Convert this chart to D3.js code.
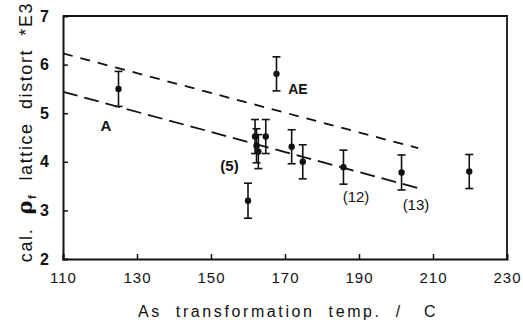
<!DOCTYPE html>
<html>
<head>
<meta charset="utf-8">
<script src="https://cdn.jsdelivr.net/npm/d3@7"></script>
<style>
body { margin: 0; background: #fff; }
svg { display: block; }
text { font-family: "Liberation Sans", Arial, sans-serif; fill: #111; white-space: pre; }
</style>
</head>
<body>
<div id="chart"></div>
<script>
// values
var temps = [125, 160, 161.9, 162.3, 162.8, 164.8, 167.7, 171.8, 174.8, 185.8, 201.5, 219.8];
var distort = [5.5, 3.2, 4.52, 4.33, 4.21, 4.52, 5.81, 4.31, 4.0, 3.89, 3.78, 3.8];
var errs = [0.36, 0.36, 0.35, 0.35, 0.35, 0.35, 0.35, 0.35, 0.35, 0.35, 0.36, 0.35];

var lineAE = [[110, 6.23], [206, 4.28]];
var lineA = [[110, 5.44], [206, 3.46]];

var xTicks = [110, 130, 150, 170, 190, 210, 230];
var yTicks = [2, 3, 4, 5, 6, 7];

var notes = [
    {t: "A", x: 121.6, y: 4.63, bold: true, size: 15},
    {t: "AE", x: 173.5, y: 5.4, bold: true, size: 14},
    {t: "(5)", x: 155, y: 3.81, bold: true, size: 15},
    {t: "(12)", x: 189.2, y: 3.17, bold: false, size: 15},
    {t: "(13)", x: 205.4, y: 3.0, bold: false, size: 15}
];

var w = 523, h = 324;
var x = d3.scaleLinear().domain([110, 230]).range([63, 507]);
var y = d3.scaleLinear().domain([2, 7]).range([259, 16]);

var svg = d3.select("#chart").append("svg").attr("width", w).attr("height", h);

// frame
svg.append("path")
    .attr("d", "M" + x(110) + "," + y(7) + "H" + x(230) + "V" + y(2))
    .attr("fill", "none").attr("stroke", "#111").attr("stroke-width", 1.8);

var gx = svg.append("g").attr("transform", "translate(0," + y(2) + ")")
    .call(d3.axisBottom(x).tickValues(xTicks).tickSize(-5).tickPadding(13).tickFormat(d3.format("d")));
var gy = svg.append("g").attr("transform", "translate(" + x(110) + ",0)")
    .call(d3.axisLeft(y).tickValues(yTicks).tickSize(-5).tickPadding(14).tickFormat(d3.format("d")));

[gx, gy].forEach(function(g) {
    g.select(".domain").attr("stroke", "#111").attr("stroke-width", 2);
    g.selectAll(".tick line").attr("stroke", "#111").attr("stroke-width", 1.5);
    g.selectAll(".tick text").attr("font-size", 15).attr("fill", "#111")
        .attr("font-family", "'Liberation Sans', Arial, sans-serif");
});
gx.selectAll(".tick text").attr("letter-spacing", 1);
gx.selectAll(".tick").filter(function(d) { return d == 230; }).select("line").remove();
gy.selectAll(".tick").filter(function(d) { return d == 2 || d == 7; }).select("line").remove();
gy.selectAll(".tick text").attr("font-weight", "bold").attr("font-size", 16);

// fitted lines
var line = d3.line().x(function(d) { return x(d[0]); }).y(function(d) { return y(d[1]); });
svg.append("path").attr("d", line(lineAE))
    .attr("fill", "none").attr("stroke", "#111").attr("stroke-width", 1.8)
    .attr("stroke-dasharray", "10,8");
svg.append("path").attr("d", line(lineA))
    .attr("fill", "none").attr("stroke", "#111").attr("stroke-width", 1.8)
    .attr("stroke-dasharray", "15,7");

// error bars
var pts = temps.map(function(t, i) { return {t: t, v: distort[i], e: errs[i]}; });
var eb = svg.append("g").attr("stroke", "#111").attr("stroke-width", 1.6);
pts.forEach(function(p) {
    var cx = x(p.t);
    eb.append("line").attr("x1", cx).attr("x2", cx).attr("y1", y(p.v - p.e)).attr("y2", y(p.v + p.e));
    eb.append("line").attr("x1", cx - 4).attr("x2", cx + 4).attr("y1", y(p.v + p.e)).attr("y2", y(p.v + p.e));
    eb.append("line").attr("x1", cx - 4).attr("x2", cx + 4).attr("y1", y(p.v - p.e)).attr("y2", y(p.v - p.e));
});
svg.append("g").selectAll("circle").data(pts).enter().append("circle")
    .attr("cx", function(d) { return x(d.t); })
    .attr("cy", function(d) { return y(d.v); })
    .attr("r", 3.2).attr("fill", "#111");

// labels on the plot
svg.append("g").selectAll("text").data(notes).enter().append("text")
    .attr("x", function(d) { return x(d.x); })
    .attr("y", function(d) { return y(d.y); })
    .attr("text-anchor", "middle")
    .attr("font-size", function(d) { return d.size; })
    .attr("font-weight", function(d) { return d.bold ? "bold" : "normal"; })
    .text(function(d) { return d.t; });

// axis titles
svg.append("text").attr("x", 288).attr("y", 317).attr("text-anchor", "middle")
    .attr("font-size", 16).attr("letter-spacing", 2.6)
    .text("As  transformation  temp.  /   C");

var yt = svg.append("text").attr("transform", "translate(32,132) rotate(-90)")
    .attr("text-anchor", "middle").attr("font-size", 18).attr("letter-spacing", 1.6);
yt.append("tspan").text("cal.  ");
yt.append("tspan").attr("font-family", "'DejaVu Serif', serif").attr("font-weight", "bold").attr("font-size", 21).text("ρ");
yt.append("tspan").attr("font-size", 11).attr("font-weight", "bold").attr("dy", 4).text("f");
yt.append("tspan").attr("dy", -4).text("  lattice  distort  *E3");
</script>
</body>
</html>
